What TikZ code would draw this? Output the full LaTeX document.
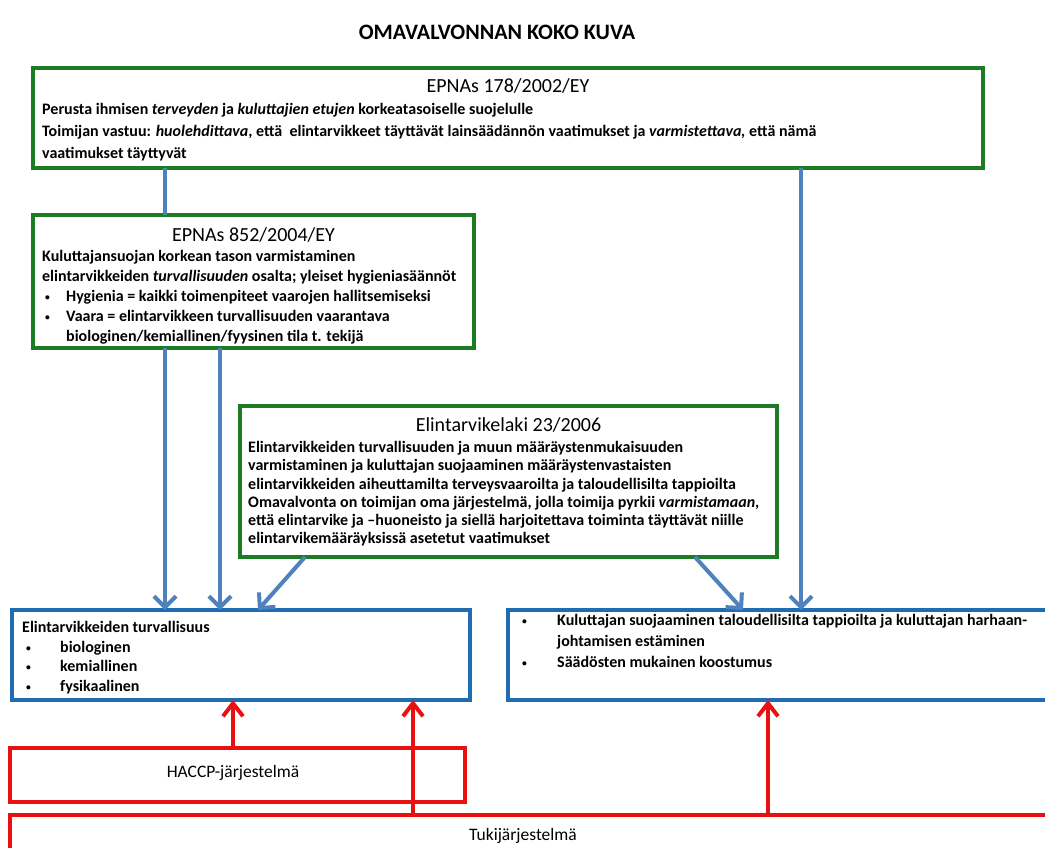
\documentclass[tikz,border=0pt]{standalone}
\usepackage{fontspec}
\setmainfont{Carlito}
\usepackage{xcolor,graphicx}
\usetikzlibrary{arrows.meta,positioning,calc}

\definecolor{lawgreen}{RGB}{28,124,36}
\definecolor{areablue}{RGB}{31,108,178}
\definecolor{flowblue}{RGB}{79,129,189}
\definecolor{suppred}{RGB}{232,16,16}

\newcommand\Bul[2]{\hspace*{#1}\makebox[#2][l]{\raisebox{1pt}{\scalebox{0.6}{\textbullet}}}}

\tikzset{
  law/.style={
    shape = rectangle,
    draw = lawgreen,
    line width = 4pt,
    anchor = north west,
    inner sep = 0pt,
    outer sep = 0pt
  },
  area/.style={
    shape = rectangle,
    draw = areablue,
    line width = 4pt,
    anchor = north west,
    inner sep = 0pt,
    outer sep = 0pt
  },
  support/.style={
    shape = rectangle,
    draw = suppred,
    line width = 4pt,
    anchor = north west,
    inner sep = 0pt,
    outer sep = 0pt
  },
  link/.style={
    draw = flowblue,
    line width = 4pt
  },
  flow/.style={
    draw = flowblue,
    line width = 4pt,
    -{Straight Barb[length=11pt,width=22pt]}
  },
  feed/.style={
    draw = suppred,
    line width = 4pt,
    -{Straight Barb[length=13pt,width=20pt]}
  },
  heading/.style={
    font = \fontsize{20}{24}\selectfont,
    inner sep = 0pt
  },
  body/.style={
    anchor = north west,
    align = left,
    font = \fontsize{16}{19.5}\selectfont\bfseries,
    inner sep = 0pt
  }
}

\begin{document}
\begin{tikzpicture}[x=1pt, y=-1pt]
  \useasboundingbox (0,0) rectangle (1045,848);
  \clip (0,0) rectangle (1045,848);
  \fill[white] (0,0) rectangle (1045,848);

  \node[heading, font=\fontsize{22}{26}\selectfont\bfseries] (title) at (497,32) {OMAVALVONNAN KOKO KUVA};

  % lainsaadanto
  \node[law, minimum width=950pt, minimum height=100pt] (epn178) at (33,68) {};
  \node[heading] (h178) at ([yshift=-18pt]epn178.north) {EPNAs 178/2002/EY};
  \node[body, font=\fontsize{16}{22}\selectfont\bfseries] (t178) at ([shift={(9,35)}]epn178.north west) {Perusta ihmisen \textit{terveyden} ja \textit{kuluttajien etujen} korkeatasoiselle suojelulle\\
    Toimijan vastuu: \textit{huolehdittava}, että\ \ elintarvikkeet täyttävät lainsäädännön vaatimukset ja \textit{varmistettava,} että nämä\\
    vaatimukset täyttyvät};

  \node[law, minimum width=441pt, minimum height=133pt] (epn852) at (33,215) {};
  \node[heading] (h852) at ([yshift=-20pt]epn852.north) {EPNAs 852/2004/EY};
  \node[body, font=\fontsize{16}{20}\selectfont\bfseries] (t852) at ([shift={(9,35)}]epn852.north west) {Kuluttajansuojan korkean tason varmistaminen\\
    elintarvikkeiden \textit{turvallisuuden} osalta; yleiset hygieniasäännöt\\
    \Bul{3pt}{21pt}Hygienia = kaikki toimenpiteet vaarojen hallitsemiseksi\\
    \Bul{3pt}{21pt}Vaara = elintarvikkeen turvallisuuden vaarantava\\
    \hspace*{24pt}biologinen/kemiallinen/fyysinen tila t. tekijä};

  \node[law, minimum width=537pt, minimum height=151pt] (laki) at (240,406) {};
  \node[heading] (hlaki) at ([yshift=-19pt]laki.north) {Elintarvikelaki 23/2006};
  \node[body, font=\fontsize{16}{18.3}\selectfont\bfseries] (tlaki) at ([shift={(8,35)}]laki.north west) {Elintarvikkeiden turvallisuuden ja muun määräystenmukaisuuden\\
    varmistaminen ja kuluttajan suojaaminen määräystenvastaisten\\
    elintarvikkeiden aiheuttamilta terveysvaaroilta ja taloudellisilta tappioilta\\
    Omavalvonta on toimijan oma järjestelmä, jolla toimija pyrkii \textit{varmistamaan},\\
    että elintarvike ja –huoneisto ja siellä harjoitettava toiminta täyttävät niille\\
    elintarvikemääräyksissä asetetut vaatimukset};

  % tavoitteet
  \node[area, minimum width=458pt, minimum height=90pt] (safety) at (12,610) {};
  \node[body, font=\fontsize{16}{19.7}\selectfont\bfseries] (tsafety) at ([shift={(10,11)}]safety.north west) {Elintarvikkeiden turvallisuus\\
    \Bul{4pt}{34pt}biologinen\\
    \Bul{4pt}{34pt}kemiallinen\\
    \Bul{4pt}{34pt}fysikaalinen};

  \node[area, minimum width=560pt, minimum height=90pt] (cons) at (508,610) {};
  \node[body, font=\fontsize{16}{21}\selectfont\bfseries] (tcons) at ([shift={(14,4)}]cons.north west) {\Bul{0pt}{35pt}Kuluttajan suojaaminen taloudellisilta tappioilta ja kuluttajan harhaan-\\
    \hspace*{35pt}johtamisen estäminen\\
    \Bul{0pt}{35pt}Säädösten mukainen koostumus};

  % jarjestelmat
  \node[support, minimum width=455pt, minimum height=54pt] (haccp) at (10,748) {};
  \node[heading, font=\fontsize{17.5}{20}\selectfont] (thaccp) at (233,773) {HACCP-järjestelmä};

  \node[support, minimum width=1060pt, minimum height=60pt] (tuki) at (10,815) {};
  \node[heading, font=\fontsize{17.5}{20}\selectfont] (ttuki) at (523,836) {Tukijärjestelmä};

  \draw[link] ([xshift=132pt]epn178.south west) -- ([xshift=132pt]epn852.north west);
  \draw[flow] ([xshift=768pt]epn178.south west) -- ([xshift=293pt]cons.north west);
  \draw[flow] ([xshift=132pt]epn852.south west) -- ([xshift=153pt]safety.north west);
  \draw[flow] ([xshift=187pt]epn852.south west) -- ([xshift=208pt]safety.north west);
  \draw[flow] ([xshift=65pt]laki.south west) -- ([xshift=246pt]safety.north west);
  \draw[flow] ([xshift=455pt]laki.south west) -- ([xshift=235pt]cons.north west);

  \draw[feed] ([xshift=223pt]haccp.north west) -- ([xshift=221pt]safety.south west);
  \draw[feed] ([xshift=403pt]tuki.north west) -- ([xshift=401pt]safety.south west);
  \draw[feed] ([xshift=758pt]tuki.north west) -- ([xshift=260pt]cons.south west);
\end{tikzpicture}
\end{document}
